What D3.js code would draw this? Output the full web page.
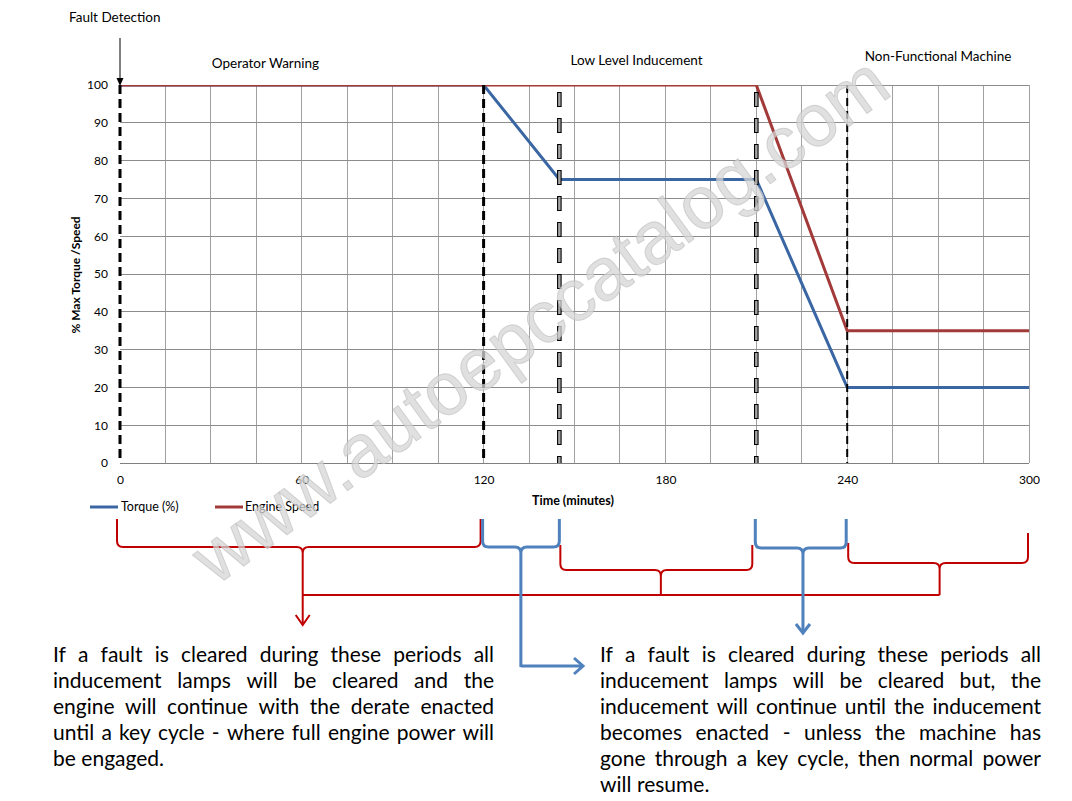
<!DOCTYPE html>
<html><head><meta charset="utf-8">
<script src="https://cdn.jsdelivr.net/npm/d3@7"></script>
<style>body{margin:0;background:#fff}svg{display:block}</style>
</head><body>
<svg id="c" width="1072" height="801"></svg>
<script>
// ---------- data ----------
const timeTicks = [0, 60, 120, 180, 240, 300];
const pctTicks = [0, 10, 20, 30, 40, 50, 60, 70, 80, 90, 100];
const gridTimes = [0, 15, 30, 45, 60, 75, 90, 105, 120, 135, 150, 165, 180, 195, 210, 225, 240, 255, 270, 285, 300];
const torqueTime = [0, 120, 145, 210, 240, 300];
const torqueValue = [100, 100, 75, 75, 20, 20];
const speedTime = [0, 210, 240, 300];
const speedValue = [100, 100, 35, 35];
const seriesNames = ["Torque (%)", "Engine Speed"];
const phaseLabels = ["Operator Warning", "Low Level Inducement", "Non-Functional Machine"];
const phaseTimes = [48, 170.5, 270];
const markerTimes = [0, 120, 145, 210, 240];
const markerStyles = ["solid", "solid", "hollow", "hollow", "thin"];
const leftText = ["If a fault is cleared during these periods all",
  "inducement lamps will be cleared and the",
  "engine will continue with the derate enacted",
  "until a key cycle - where full engine power will",
  "be engaged."];
const rightText = ["If a fault is cleared during these periods all",
  "inducement lamps will be cleared but, the",
  "inducement will continue until the inducement",
  "becomes enacted - unless the machine has",
  "gone through a key cycle, then normal power",
  "will resume."];

const svg = d3.select("#c");
const x = d3.scaleLinear().domain([0, 300]).range([120, 1029]);
const y = d3.scaleLinear().domain([0, 100]).range([463, 85]);
const F = "Lato, 'Open Sans', sans-serif";
const BLUE = "#3A66A3", RED = "#A33A3A";

// clip
svg.append("defs").append("clipPath").attr("id", "pc").append("rect")
  .attr("x", x(0)).attr("y", y(100)).attr("width", x(300) - x(0)).attr("height", y(0) - y(100));

// grid
svg.append("g").selectAll("line").data(gridTimes.slice(1)).join("line")
  .attr("x1", d => x(d)).attr("x2", d => x(d)).attr("y1", y(0)).attr("y2", y(100))
  .attr("stroke", "#a0a0a0").attr("stroke-width", 1).attr("shape-rendering", "crispEdges");
svg.append("g").selectAll("line").data(pctTicks.slice(1)).join("line")
  .attr("x1", x(0)).attr("x2", x(300)).attr("y1", d => y(d)).attr("y2", d => y(d))
  .attr("stroke", "#8c8c8c").attr("stroke-width", 1).attr("shape-rendering", "crispEdges");
svg.append("line").attr("x1", x(0)).attr("x2", x(300)).attr("y1", y(0)).attr("y2", y(0))
  .attr("stroke", "#7f7f7f").attr("shape-rendering", "crispEdges");

// axes tick labels via d3 axes
const yAxis = svg.append("g").attr("transform", `translate(${x(0) - 4},0)`)
  .call(d3.axisLeft(y).tickValues(pctTicks).tickSize(0).tickPadding(8));
yAxis.select(".domain").remove();
yAxis.selectAll("text").attr("font-family", F).attr("font-size", 12).attr("fill", "#000");
const xAxis = svg.append("g").attr("transform", `translate(0,${y(0)})`)
  .call(d3.axisBottom(x).tickValues(timeTicks).tickSize(0).tickPadding(12));
xAxis.select(".domain").remove();
xAxis.selectAll("text").attr("font-family", F).attr("font-size", 12).attr("fill", "#000");

// axis titles
svg.append("text").attr("transform", `translate(80,275) rotate(-90)`).attr("text-anchor", "middle")
  .attr("font-family", F).attr("font-weight", "bold").attr("font-size", 12).text("% Max Torque /Speed");
svg.append("text").attr("x", 573).attr("y", 505).attr("text-anchor", "middle")
  .attr("font-family", F).attr("font-weight", "bold").attr("font-size", 12.5).text("Time (minutes)");

// series lines
const line = d3.line().x(d => x(d[0])).y(d => y(d[1]));
const pg = svg.append("g").attr("clip-path", "url(#pc)");
pg.append("path").datum(torqueTime.map((t, i) => [t, torqueValue[i]]))
  .attr("d", line).attr("fill", "none").attr("stroke", BLUE).attr("stroke-width", 3);
pg.append("path").datum(speedTime.map((t, i) => [t, speedValue[i]]))
  .attr("d", line).attr("fill", "none").attr("stroke", RED).attr("stroke-width", 3);

// marker dashed verticals
markerTimes.forEach((t, i) => {
  const st = markerStyles[i];
  const g = svg.append("g");
  const mk = () => g.append("line").attr("x1", x(t)).attr("x2", x(t)).attr("y1", y(100)).attr("y2", y(0));
  if (st === "solid") {
    mk().attr("stroke", "#000").attr("stroke-width", 3).attr("stroke-dasharray", "9 5");
  } else if (st === "thin") {
    mk().attr("stroke", "#000").attr("stroke-width", 2).attr("stroke-dasharray", "8 5");
  } else {
    mk().attr("stroke", "#000").attr("stroke-width", 4.6).attr("stroke-dasharray", "15 11").attr("stroke-dashoffset", -7);
    mk().attr("stroke", "#a6a6a6").attr("stroke-width", 2.4).attr("stroke-dasharray", "13 13").attr("stroke-dashoffset", -8);
  }
});

// fault detection arrow
svg.append("text").attr("x", 69).attr("y", 22).attr("font-family", F).attr("font-size", 13.5).text("Fault Detection");
svg.append("line").attr("x1", x(0)).attr("x2", x(0)).attr("y1", 38).attr("y2", 80).attr("stroke", "#000").attr("stroke-width", 1);
svg.append("path").attr("d", `M${x(0) - 3.5},78 L${x(0) + 3.5},78 L${x(0)},86 Z`).attr("fill", "#000");

// phase labels
const phaseY = [68, 65, 61];
phaseLabels.forEach((p, i) => {
  svg.append("text").attr("x", x(phaseTimes[i])).attr("y", phaseY[i]).attr("text-anchor", "middle")
    .attr("font-family", F).attr("font-size", 13.5).text(p);
});

// legend
const lg = svg.append("g");
[[90, BLUE, 121], [215, RED, 245]].forEach((L, i) => {
  lg.append("line").attr("x1", L[0]).attr("x2", L[0] + 28).attr("y1", 507).attr("y2", 507).attr("stroke", L[1]).attr("stroke-width", 3);
  lg.append("text").attr("x", L[2]).attr("y", 511).attr("font-family", F).attr("font-size", 12.5).text(seriesNames[i]);
});

// braces
function brace(t0, t1, tm, topL, topR, bar, tip, color, w, dx0, dx1) {
  const xa = x(t0) + dx0, xb = x(t1) + dx1, xm = x(tm), r = 6;
  const d = `M${xa},${topL} L${xa},${bar - r} Q${xa},${bar} ${xa + r},${bar} L${xm - r},${bar} Q${xm},${bar} ${xm},${bar + r} L${xm},${tip}
             M${xb},${topR} L${xb},${bar - r} Q${xb},${bar} ${xb - r},${bar} L${xm + r},${bar} Q${xm},${bar} ${xm},${bar + r}`;
  svg.append("path").attr("d", d).attr("fill", "none").attr("stroke", color).attr("stroke-width", w);
  return xm;
}
const BR = "#C00000", BB = "#4F81BD";
const m1 = brace(0, 120, 60.3, 519, 519, 547, 625, BR, 2, -3, -3);
const m2 = brace(145, 210, 178.5, 545, 545, 570, 595, BR, 2, 1, -4);
const m3 = brace(240, 300, 270.5, 543, 533, 563, 595, BR, 2, 1, -1);
svg.append("line").attr("x1", m1).attr("x2", m3).attr("y1", 595).attr("y2", 595).attr("stroke", BR).attr("stroke-width", 2);
svg.append("path").attr("d", `M${m1 - 7},615 L${m1},625 L${m1 + 7},615`).attr("fill", "none").attr("stroke", BR).attr("stroke-width", 2);

const b1 = brace(120, 145, 132.3, 519, 519, 547, 667, BB, 3, -1, 0);
svg.append("path").attr("d", `M${b1},666 L582,666`).attr("fill", "none").attr("stroke", BB).attr("stroke-width", 3);
svg.append("path").attr("d", `M574,658 L583,666 L574,674`).attr("fill", "none").attr("stroke", BB).attr("stroke-width", 3);
const b2 = brace(210, 240, 225.4, 519, 519, 548, 632, BB, 3, -1, -1);
svg.append("path").attr("d", `M${b2 - 7},624 L${b2},633 L${b2 + 7},624`).attr("fill", "none").attr("stroke", BB).attr("stroke-width", 3);

// justified paragraphs
function para(lines, x0, x1, y0, lh) {
  const g = svg.append("g").attr("font-family", F).attr("font-size", 21).attr("fill", "#000");
  lines.forEach((ln, i) => {
    const words = ln.split(" ");
    const nodes = words.map(w => g.append("text").attr("y", y0 + i * lh).text(w));
    const widths = nodes.map(n => n.node().getComputedTextLength());
    const tot = d3.sum(widths);
    const last = i === lines.length - 1;
    const gap = last ? 5.5 : (x1 - x0 - tot) / (words.length - 1);
    let cx = x0;
    nodes.forEach((n, j) => { n.attr("x", cx); cx += widths[j] + gap; });
  });
}
para(leftText, 53, 494, 662, 25.9);
para(rightText, 600, 1041, 662, 25.9);

// watermark
svg.append("text").attr("transform", "translate(555,340) rotate(-36)").attr("text-anchor", "middle")
  .attr("font-family", "'Liberation Sans', Arial, sans-serif").attr("font-size", 74)
  .attr("fill", "#d6d6d6").attr("fill-opacity", 0.75).attr("stroke", "#bdbdbd").attr("stroke-opacity", 0.6)
  .text("www.autoepccatalog.com");
</script>
</body></html>
